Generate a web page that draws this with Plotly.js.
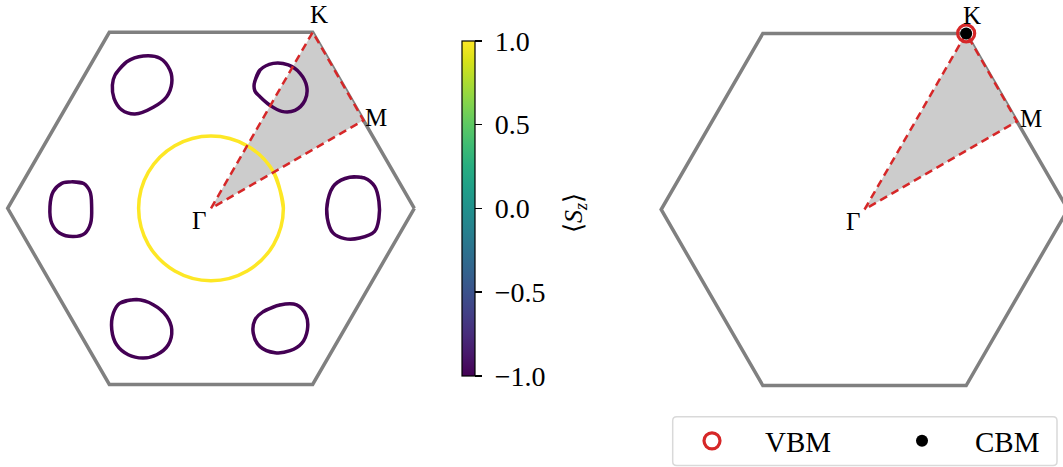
<!DOCTYPE html>
<html><head><meta charset="utf-8">
<script src="https://cdn.plot.ly/plotly-3.0.1.min.js"></script>
<style>html,body{margin:0;padding:0;background:#fff}</style>
</head><body>
<div id="chart" style="width:1063px;height:467px"></div>
<script>
// Brillouin zone (hexagon vertex radius = 1)
const hexX = [1, 0.5, -0.5, -1, -0.5, 0.5, 1];
const hexY = [0, 0.866, 0.866, 0, -0.866, -0.866, 0];
// irreducible wedge Γ-K-M
const pathX = [0, 0.5, 0.75, 0];
const pathY = [0, 0.866, 0.433, 0];
const pointNames = ['Γ', 'K', 'M'];
const pointX = [0, 0.5, 0.75];
const pointY = [0, 0.866, 0.433];

// Fermi contours
const pocketA_x = [-0.472,-0.414,-0.333,-0.251,-0.202,-0.193,-0.218,-0.284,-0.374,-0.439,-0.477,-0.485];
const pocketA_y = [0.656,0.721,0.749,0.738,0.680,0.615,0.549,0.497,0.464,0.484,0.541,0.606];
const pocketB_x = [0.213,0.241,0.306,0.380,0.438,0.471,0.462,0.413,0.348,0.290,0.241,0.216];
const pocketB_y = [0.615,0.680,0.713,0.705,0.664,0.598,0.531,0.482,0.477,0.507,0.549,0.577];
const pocketC_x = [-0.685,-0.628,-0.595,-0.587,-0.592,-0.620,-0.677,-0.743,-0.783,-0.792,-0.776,-0.734];
const pocketC_y = [0.131,0.123,0.082,0.008,-0.074,-0.123,-0.139,-0.123,-0.074,0.008,0.082,0.123];
const pocketD_x = [0.682,0.756,0.805,0.826,0.826,0.805,0.731,0.658,0.600,0.572,0.575,0.608];
const pocketD_y = [0.153,0.149,0.108,0.034,-0.048,-0.113,-0.146,-0.149,-0.121,-0.048,0.042,0.116];
const pocketE_x = [-0.448,-0.365,-0.284,-0.218,-0.193,-0.210,-0.267,-0.333,-0.407,-0.464,-0.488,-0.480];
const pocketE_y = [-0.466,-0.449,-0.474,-0.531,-0.597,-0.671,-0.720,-0.736,-0.720,-0.671,-0.597,-0.515];
const pocketF_x = [0.257,0.339,0.421,0.467,0.474,0.446,0.389,0.315,0.241,0.208,0.216];
const pocketF_y = [-0.508,-0.475,-0.475,-0.525,-0.598,-0.664,-0.700,-0.710,-0.680,-0.615,-0.549];
const gamma_x = [0.356,0.308,0.178,0,-0.178,-0.308,-0.356,-0.308,-0.178,0,0.178,0.308];
const gamma_y = [0,0.178,0.308,0.356,0.308,0.178,0,-0.178,-0.308,-0.356,-0.308,-0.178];
const szPocket = -1;
const szGamma = 1;
const szTicks = [-1, -0.5, 0, 0.5, 1];

// band extrema (at K)
const vbmX = [0.5], vbmY = [0.866];
const cbmX = [0.5], cbmY = [0.866];

const FONT = 'Liberation Serif, Times New Roman, serif';
const viridisLow = '#440154', viridisHigh = '#fde725';
const W = 1063, H = 467;

function closeLoop(a){ return a.concat([a[0], a[1]]); }

const traces = [];
function bz(xa, ya){
  traces.push({x: hexX, y: hexY, xaxis: xa, yaxis: ya, mode:'lines', line:{color:'#808080', width:3.5}, showlegend:false, hoverinfo:'skip'});
  traces.push({x: pathX, y: pathY, xaxis: xa, yaxis: ya, mode:'lines', fill:'toself', fillcolor:'#cccccc', line:{width:0}, showlegend:false, hoverinfo:'skip'});
}
bz('x','y');
const pockets = [[pocketA_x,pocketA_y],[pocketB_x,pocketB_y],[pocketC_x,pocketC_y],[pocketD_x,pocketD_y],[pocketE_x,pocketE_y],[pocketF_x,pocketF_y]];
pockets.forEach((p, i) => {
  const xs = closeLoop(p[0]), ys = closeLoop(p[1]);
  traces.push({x: xs, y: ys, xaxis:'x', yaxis:'y', mode:'lines', line:{color: viridisLow, width:3.5, shape:'spline', smoothing:1}, showlegend:false, hoverinfo:'skip'});
});
{
  const xs = closeLoop(gamma_x), ys = closeLoop(gamma_y);
  traces.push({x: xs, y: ys, xaxis:'x', yaxis:'y', mode:'lines', line:{color: viridisHigh, width:3.5, shape:'spline', smoothing:1}, showlegend:false, hoverinfo:'skip'});
}
// spin-coloured points along contours (drive colorbar)
{
  let cx = [], cy = [], cc = [];
  pockets.forEach(p => { cx = cx.concat(p[0]); cy = cy.concat(p[1]); cc = cc.concat(p[0].map(() => szPocket)); });
  cx = cx.concat(gamma_x); cy = cy.concat(gamma_y); cc = cc.concat(gamma_x.map(() => szGamma));
  traces.push({x: cx, y: cy, xaxis:'x', yaxis:'y', mode:'markers', showlegend:false, hoverinfo:'skip',
    marker:{size:2, color: cc, colorscale:'Viridis', cmin:-1, cmax:1, showscale:true,
      colorbar:{x:461.7/W, xanchor:'left', xpad:0, ypad:0, thickness:13, len:335.3/H, lenmode:'fraction', y:1-208.35/H, yanchor:'middle',
        outlinewidth:1.2, outlinecolor:'#000', ticks:'outside', ticklen:7, tickwidth:1.3, tickcolor:'#000',
        tickvals: szTicks, ticktext: szTicks.map(v => '\u00a0' + v.toFixed(1).replace('-', '\u2212')),
        tickfont:{family: FONT, size:28, color:'#000'}}}});
}
traces.push({x: pathX, y: pathY, xaxis:'x', yaxis:'y', mode:'lines', line:{color:'#d62728', width:2.5, dash:'8px,5px'}, showlegend:false, hoverinfo:'skip'});

bz('x2','y2');
traces.push({x: pathX, y: pathY, xaxis:'x2', yaxis:'y2', mode:'lines', line:{color:'#d62728', width:2.5, dash:'8px,5px'}, showlegend:false, hoverinfo:'skip'});
traces.push({x: vbmX, y: vbmY, xaxis:'x2', yaxis:'y2', mode:'markers', name:'VBM', marker:{symbol:'circle-open', size:17, color:'#d62728', line:{width:3.2, color:'#d62728'}}, cliponaxis:false});
traces.push({x: cbmX, y: cbmY, xaxis:'x2', yaxis:'y2', mode:'markers', name:'CBM', marker:{symbol:'circle', size:12, color:'#000'}, cliponaxis:false});

const annotations = [];
function labels(xr, yr, shifts){
  pointNames.forEach((n, i) => {
    annotations.push({x: pointX[i], y: pointY[i], xref: xr, yref: yr, text: n, showarrow:false,
      xanchor: shifts[i][0], yanchor:'middle', xshift: shifts[i][1], yshift: shifts[i][2],
      font:{family: FONT, size:25, color:'#000'}});
  });
}
labels('x','y', [['right',-3,-12],['center',6,18],['left',0,3]]);
labels('x2','y2', [['right',-3,-12],['center',6,18],['left',1,3]]);
annotations.push({x:575/W, y:1-213/H, xref:'paper', yref:'paper', text:'⟨<i>S</i><sub><i>z</i></sub>⟩', showarrow:false, textangle:-90,
  font:{family: FONT, size:26, color:'#000'}});

// legend frame (rounded rectangle, pixel -> paper)
const lx0 = 672.7/W, lx1 = 1057/W, ly0 = 1-465.5/H, ly1 = 1-416.7/H;
const rx = 4/W, ry = 4/H;
const framePath = `M ${lx0+rx},${ly1} L ${lx1-rx},${ly1} Q ${lx1},${ly1} ${lx1},${ly1-ry} L ${lx1},${ly0+ry} Q ${lx1},${ly0} ${lx1-rx},${ly0} L ${lx0+rx},${ly0} Q ${lx0},${ly0} ${lx0},${ly0+ry} L ${lx0},${ly1-ry} Q ${lx0},${ly1} ${lx0+rx},${ly1} Z`;

const ax = {visible:false, fixedrange:true};
const layout = {
  width:W, height:H, margin:{l:0,r:0,t:0,b:0, autoexpand:false}, paper_bgcolor:'#fff', plot_bgcolor:'rgba(0,0,0,0)',
  xaxis: Object.assign({domain:[0, 430/W], range:[-1.0377, 1.0771]}, ax),
  yaxis: Object.assign({domain:[0,1], range:[-1.2722, 1.0246]}, ax),
  xaxis2: Object.assign({domain:[650/W, 1], range:[-1.0549, 0.9762], anchor:'y2'}, ax),
  yaxis2: Object.assign({domain:[0,1], range:[-1.2664, 1.0303], anchor:'x2'}, ax),
  showlegend:true,
  legend:{orientation:'h', x:659/W, y:1-441/H, xanchor:'left', yanchor:'middle', itemwidth:96, entrywidth:99, entrywidthmode:'pixels',
    bgcolor:'rgba(0,0,0,0)', borderwidth:0, font:{family: FONT, size:29, color:'#000'}, itemsizing:'trace'},
  shapes:[{type:'path', xref:'paper', yref:'paper', path: framePath, line:{color:'#d9d9d9', width:1.5}, fillcolor:'rgba(255,255,255,0.8)', layer:'below'}],
  annotations: annotations
};
Plotly.newPlot('chart', traces, layout, {staticPlot:true, displayModeBar:false});
</script>
</body></html>
